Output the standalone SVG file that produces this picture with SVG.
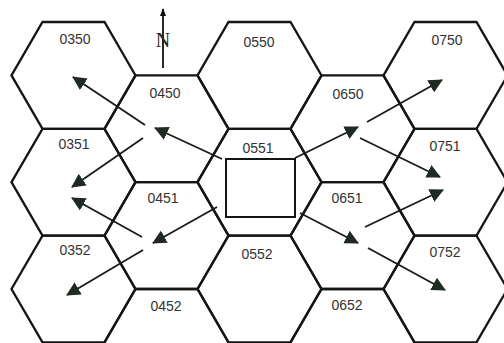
<svg xmlns="http://www.w3.org/2000/svg" width="504" height="343" viewBox="0 0 504 343">
<defs>
<style>
.hex{fill:none;stroke:#151515;stroke-width:2.3;stroke-linejoin:miter}
.lbl{font-family:"Liberation Sans",Arial,sans-serif;font-size:14px;fill:#333;text-anchor:middle}
.con{fill:none;stroke:#1a1a1a;stroke-width:1.8;marker-end:url(#ah)}
</style>
<marker id="ah" markerUnits="userSpaceOnUse" markerWidth="16" markerHeight="16" refX="13" refY="7" orient="auto" viewBox="0 0 16 14">
<path d="M0,0 L14,7 L0,14 Z" fill="#1f2a22"/>
</marker>
<marker id="nh" markerUnits="userSpaceOnUse" markerWidth="8" markerHeight="8" refX="7" refY="3" orient="auto" viewBox="0 0 8 6">
<path d="M0,0 L8,3 L0,6 Z" fill="#111"/>
</marker>
</defs>
<rect width="504" height="343" fill="#fff"/>
<g id="n0350"><polygon class="hex" points="11.5,75.4 42.5,22 104.5,22 135.5,75.4 104.5,128.8 42.5,128.8"/><text class="lbl" x="75" y="44">0350</text></g>
<g id="n0351"><polygon class="hex" points="11.5,182.2 42.5,128.8 104.5,128.8 135.5,182.2 104.5,235.6 42.5,235.6"/><text class="lbl" x="74" y="149">0351</text></g>
<g id="n0352"><polygon class="hex" points="11.5,289 42.5,235.6 104.5,235.6 135.5,289 104.5,342.4 42.5,342.4"/><text class="lbl" x="75" y="255">0352</text></g>
<g id="n0450"><polygon class="hex" points="104.5,128.8 135.5,75.4 197.5,75.4 228.5,128.8 197.5,182.2 135.5,182.2"/><text class="lbl" x="165" y="98">0450</text></g>
<g id="n0451"><polygon class="hex" points="104.5,235.6 135.5,182.2 197.5,182.2 228.5,235.6 197.5,289 135.5,289"/><text class="lbl" x="163" y="203">0451</text></g>
<g id="n0452"><polygon class="hex" points="104.5,342.4 135.5,289 197.5,289 228.5,342.4 197.5,395.8 135.5,395.8"/><text class="lbl" x="166" y="311">0452</text></g>
<g id="n0550"><polygon class="hex" points="197.5,75.4 228.5,22 290.5,22 321.5,75.4 290.5,128.8 228.5,128.8"/><text class="lbl" x="259" y="47">0550</text></g>
<g id="n0551"><polygon class="hex" points="197.5,182.2 228.5,128.8 290.5,128.8 321.5,182.2 290.5,235.6 228.5,235.6"/><text class="lbl" x="258" y="153">0551</text><rect x="226" y="159" width="69" height="58" fill="none" stroke="#151515" stroke-width="2"/></g>
<g id="n0552"><polygon class="hex" points="197.5,289 228.5,235.6 290.5,235.6 321.5,289 290.5,342.4 228.5,342.4"/><text class="lbl" x="257" y="259">0552</text></g>
<g id="n0650"><polygon class="hex" points="290.5,128.8 321.5,75.4 383.5,75.4 414.5,128.8 383.5,182.2 321.5,182.2"/><text class="lbl" x="348" y="99">0650</text></g>
<g id="n0651"><polygon class="hex" points="290.5,235.6 321.5,182.2 383.5,182.2 414.5,235.6 383.5,289 321.5,289"/><text class="lbl" x="347" y="203">0651</text></g>
<g id="n0652"><polygon class="hex" points="290.5,342.4 321.5,289 383.5,289 414.5,342.4 383.5,395.8 321.5,395.8"/><text class="lbl" x="347" y="310">0652</text></g>
<g id="n0750"><polygon class="hex" points="383.5,75.4 414.5,22 476.5,22 507.5,75.4 476.5,128.8 414.5,128.8"/><text class="lbl" x="447" y="45">0750</text></g>
<g id="n0751"><polygon class="hex" points="383.5,182.2 414.5,128.8 476.5,128.8 507.5,182.2 476.5,235.6 414.5,235.6"/><text class="lbl" x="445" y="151">0751</text></g>
<g id="n0752"><polygon class="hex" points="383.5,289 414.5,235.6 476.5,235.6 507.5,289 476.5,342.4 414.5,342.4"/><text class="lbl" x="445" y="257">0752</text></g>
<g id="north">
<line x1="163" y1="68" x2="163" y2="9" stroke="#111" stroke-width="1.8" marker-end="url(#nh)"/>
<text x="163" y="47" font-family="Liberation Serif,'Times New Roman',serif" font-size="20" fill="#222" text-anchor="middle">N</text>
</g>
<g id="connectors">
<line class="con" x1="222" y1="159" x2="155" y2="128"/>
<line class="con" x1="145" y1="125" x2="73" y2="77"/>
<line class="con" x1="143" y1="138" x2="72" y2="187"/>
<line class="con" x1="217" y1="207" x2="153" y2="243"/>
<line class="con" x1="142" y1="237" x2="72" y2="198"/>
<line class="con" x1="143" y1="250" x2="67" y2="295"/>
<line class="con" x1="295" y1="158" x2="358" y2="127"/>
<line class="con" x1="367" y1="122" x2="442" y2="80"/>
<line class="con" x1="360" y1="138" x2="440" y2="177"/>
<line class="con" x1="300" y1="213" x2="358" y2="243"/>
<line class="con" x1="365" y1="227" x2="443" y2="190"/>
<line class="con" x1="368" y1="248" x2="445" y2="290"/>
</g>
</svg>
